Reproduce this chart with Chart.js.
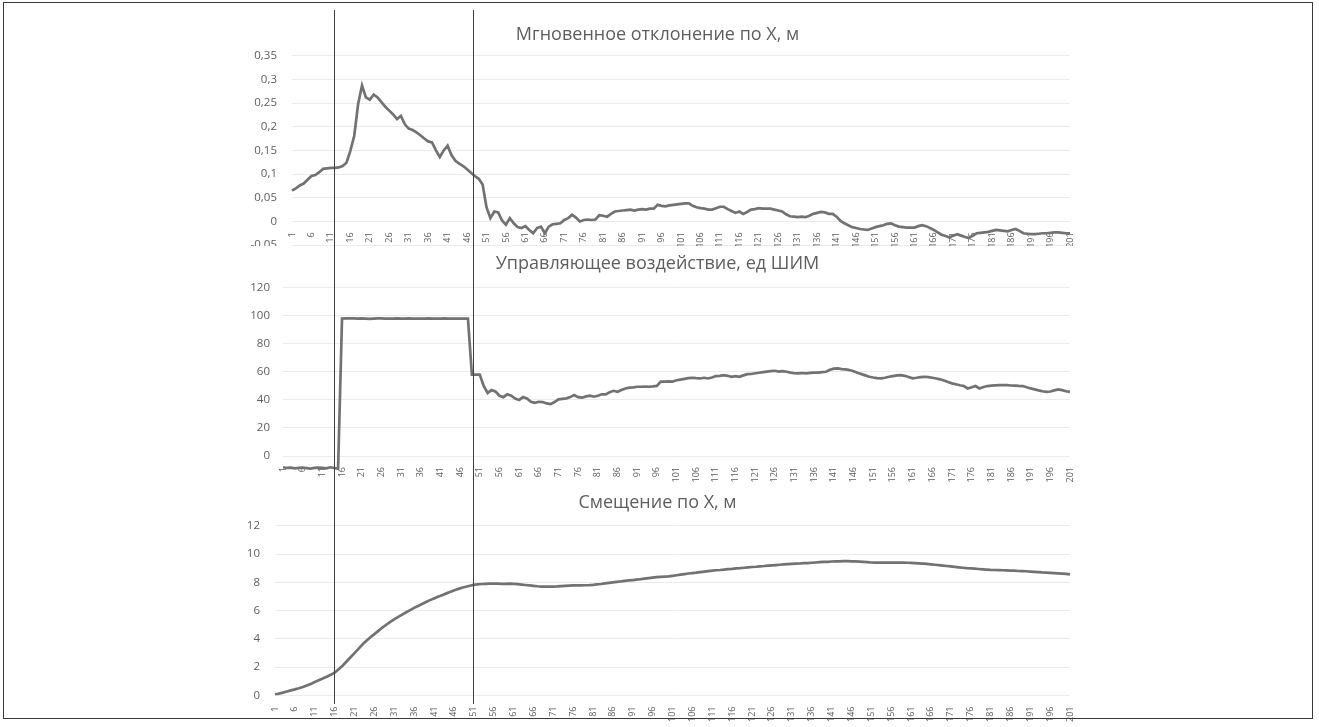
<!DOCTYPE html>
<html>
<head>
<meta charset="utf-8">
<script src="https://cdn.jsdelivr.net/npm/chart.js@4.4.0/dist/chart.umd.min.js"></script>
<style>
  body { margin: 0; background: #fff; width: 1319px; height: 727px; position: relative; overflow: hidden; }
  .box { position: absolute; left: 0; width: 1319px; overflow: hidden; }
  .box canvas { position: absolute; left: 0; top: 0; }
  #frame { position: absolute; left: 3px; top: 2px; width: 1308px; height: 715px; border: 1.5px solid #3a3a3a; pointer-events: none; }
  .vline { position: absolute; width: 1px; background: #3f3f3f; top: 10px; height: 694px; z-index: 5; }
</style>
</head>
<body>
<div class="box" style="top:0;height:246px"><canvas id="c1" width="1319" height="267"></canvas></div>
<div class="box" style="top:246px;height:237px"><canvas id="c2" width="1319" height="260" style="top:-2px"></canvas></div>
<div class="box" style="top:483px;height:244px"><canvas id="c3" width="1319" height="240"></canvas></div>
<div id="frame"></div>
<script>
const categories = Array.from({ length: 201 }, (_, i) => String(i + 1));
const markerCats = ["16", "51"];

const titles = [
  "Мгновенное отклонение по X, м",
  "Управляющее воздействие, ед ШИМ",
  "Смещение по X, м"
];

const deviationX = [
  0.065, 0.070, 0.076, 0.080, 0.088, 0.096, 0.098, 0.104, 0.111, 0.112,
  0.113, 0.113, 0.114, 0.117, 0.124, 0.149, 0.181, 0.248, 0.287, 0.262,
  0.257, 0.268, 0.262, 0.252, 0.242, 0.234, 0.226, 0.216, 0.223, 0.205,
  0.196, 0.193, 0.188, 0.182, 0.175, 0.169, 0.167, 0.150, 0.136, 0.150,
  0.160, 0.140, 0.128, 0.122, 0.117, 0.110, 0.103, 0.096, 0.090, 0.078,
  0.030, 0.007, 0.021, 0.019, 0.002, -0.007, 0.007, -0.004, -0.012, -0.014,
  -0.010, -0.018, -0.025, -0.014, -0.011, -0.025, -0.011, -0.006, -0.005, -0.004,
  0.003, 0.007, 0.014, 0.008, 0.000, 0.003, 0.004, 0.003, 0.004, 0.013,
  0.012, 0.010, 0.016, 0.021, 0.022, 0.023, 0.024, 0.025, 0.023, 0.025,
  0.026, 0.025, 0.027, 0.027, 0.035, 0.033, 0.032, 0.034, 0.035, 0.036,
  0.037, 0.038, 0.038, 0.033, 0.030, 0.028, 0.027, 0.025, 0.025, 0.028,
  0.031, 0.031, 0.026, 0.022, 0.018, 0.021, 0.016, 0.020, 0.025, 0.026,
  0.028, 0.027, 0.027, 0.027, 0.025, 0.023, 0.021, 0.015, 0.011, 0.010,
  0.009, 0.010, 0.009, 0.012, 0.016, 0.018, 0.020, 0.019, 0.016, 0.016,
  0.010, 0.001, -0.004, -0.008, -0.012, -0.014, -0.016, -0.017, -0.018, -0.015,
  -0.012, -0.010, -0.008, -0.005, -0.004, -0.008, -0.011, -0.012, -0.013, -0.013,
  -0.013, -0.010, -0.008, -0.010, -0.014, -0.018, -0.023, -0.028, -0.031, -0.034,
  -0.030, -0.027, -0.030, -0.033, -0.035, -0.030, -0.025, -0.024, -0.023, -0.022,
  -0.020, -0.018, -0.019, -0.020, -0.021, -0.018, -0.016, -0.020, -0.025, -0.026,
  -0.027, -0.027, -0.026, -0.025, -0.025, -0.024, -0.023, -0.023, -0.024, -0.025,
  -0.025
];

const controlPwm = [
  -8.0, -8.5, -8.3, -8.8, -8.5, -8.2, -8.6, -9.0, -8.4, -8.2,
  -8.5, -8.8, -8.0, -8.5, -9.0, 98.0, 98.2, 98.2, 98.1, 98.0,
  98.2, 98.0, 97.8, 98.0, 98.1, 98.2, 98.0, 97.9, 98.0, 98.1,
  98.0, 98.0, 98.1, 98.0, 97.9, 98.0, 98.0, 98.1, 98.0, 98.0,
  98.0, 98.1, 98.0, 98.0, 97.9, 98.0, 98.0, 98.0, 58.0, 58.0,
  58.0, 50.0, 45.0, 47.0, 46.0, 43.0, 42.0, 44.0, 43.0, 41.0,
  40.0, 42.0, 41.0, 38.7, 38.0, 38.7, 38.5, 37.5, 37.0, 38.5,
  40.4, 40.8, 41.1, 42.0, 43.5, 42.0, 41.6, 42.5, 43.0, 42.3,
  43.0, 44.0, 44.0, 45.5, 46.5, 45.8, 47.0, 48.2, 48.8, 49.0,
  49.4, 49.4, 49.5, 49.4, 49.6, 50.0, 53.0, 53.0, 53.2, 53.0,
  54.0, 54.5, 55.0, 55.5, 55.8, 55.5, 55.3, 55.8, 55.3, 56.0,
  57.0, 57.2, 57.7, 57.2, 56.5, 57.0, 56.5, 57.5, 58.4, 58.5,
  59.0, 59.4, 59.8, 60.2, 60.5, 60.8, 60.2, 60.5, 60.1, 59.5,
  59.0, 58.9, 59.2, 59.0, 59.3, 59.4, 59.5, 59.8, 60.1, 61.5,
  62.3, 62.5, 62.0, 61.8, 61.3, 60.5, 59.3, 58.4, 57.5, 56.5,
  56.0, 55.6, 55.4, 55.8, 56.5, 57.0, 57.5, 57.7, 57.2, 56.3,
  55.4, 55.8, 56.3, 56.5, 56.2, 55.8, 55.3, 54.7, 53.8, 52.8,
  51.8, 51.2, 50.5, 49.9, 48.2, 49.0, 49.9, 48.2, 49.2, 49.9,
  50.2, 50.4, 50.6, 50.5, 50.5, 50.3, 50.2, 50.0, 49.9, 49.0,
  48.2, 47.5, 46.8, 46.2, 45.8, 46.0, 46.8, 47.5, 47.0, 46.2,
  45.8
];

const offsetX = [
  0.07, 0.13, 0.20, 0.28, 0.36, 0.43, 0.51, 0.60, 0.70, 0.82,
  0.95, 1.08, 1.20, 1.33, 1.46, 1.61, 1.85, 2.10, 2.40, 2.70,
  3.00, 3.30, 3.60, 3.87, 4.12, 4.34, 4.57, 4.80, 5.00, 5.20,
  5.38, 5.55, 5.72, 5.88, 6.03, 6.19, 6.33, 6.47, 6.61, 6.74,
  6.86, 6.98, 7.09, 7.20, 7.31, 7.42, 7.52, 7.61, 7.69, 7.76,
  7.82, 7.86, 7.88, 7.89, 7.90, 7.90, 7.90, 7.89, 7.89, 7.90,
  7.89, 7.87, 7.84, 7.81, 7.78, 7.75, 7.72, 7.70, 7.70, 7.69,
  7.70, 7.71, 7.73, 7.75, 7.77, 7.78, 7.78, 7.78, 7.79, 7.80,
  7.82, 7.85, 7.88, 7.92, 7.96, 8.00, 8.03, 8.06, 8.10, 8.13,
  8.16, 8.19, 8.22, 8.26, 8.30, 8.33, 8.36, 8.38, 8.40, 8.42,
  8.46, 8.50, 8.54, 8.58, 8.62, 8.65, 8.68, 8.72, 8.76, 8.79,
  8.82, 8.85, 8.87, 8.90, 8.93, 8.95, 8.98, 9.00, 9.03, 9.06,
  9.08, 9.10, 9.13, 9.15, 9.18, 9.20, 9.22, 9.24, 9.26, 9.28,
  9.30, 9.32, 9.33, 9.35, 9.36, 9.38, 9.40, 9.42, 9.44, 9.45,
  9.47, 9.48, 9.48, 9.49, 9.49, 9.48, 9.48, 9.46, 9.44, 9.42,
  9.40, 9.39, 9.39, 9.39, 9.39, 9.39, 9.40, 9.39, 9.39, 9.38,
  9.37, 9.36, 9.34, 9.32, 9.30, 9.27, 9.24, 9.21, 9.18, 9.15,
  9.12, 9.09, 9.06, 9.03, 9.00, 8.98, 8.96, 8.94, 8.92, 8.90,
  8.88, 8.87, 8.86, 8.85, 8.84, 8.83, 8.82, 8.80, 8.79, 8.78,
  8.76, 8.74, 8.72, 8.70, 8.69, 8.67, 8.65, 8.63, 8.61, 8.59,
  8.56
];

const textColor = "#5e5e5e";
const font = "'Open Sans', sans-serif";

function makeChart(id, values, title, cfg) {
  const ctx = document.getElementById(id).getContext("2d");
  return new Chart(ctx, {
    type: "line",
    data: {
      labels: categories,
      datasets: [{
        data: values,
        borderColor: "#727272",
        borderWidth: 2.7,
        pointRadius: 0,
        tension: 0
      }]
    },
    options: {
      responsive: false,
      animation: false,
      layout: { padding: { left: 245, right: 249, top: 0, bottom: cfg.padBottom } },
      plugins: {
        legend: { display: false },
        tooltip: { enabled: false },
        title: {
          display: true,
          text: title,
          color: textColor,
          font: { family: font, size: 18, weight: "normal" },
          padding: { top: cfg.titleTop, bottom: cfg.titleBottom }
        }
      },
      scales: {
        x: {
          axis: "x",
          position: { y: cfg.xAt },
          grid: { display: false },
          border: { display: false },
          ticks: {
            autoSkip: false,
            maxRotation: 90,
            minRotation: 90,
            padding: 3,
            color: textColor,
            font: { family: font, size: 9 },
            callback: (v, i) => (i % 5 === 0 ? categories[i] : "")
          }
        },
        y: {
          min: cfg.min,
          max: cfg.max,
          afterFit: (s) => { s.width = cfg.yWidth; },
          grid: { color: "#ebebeb", drawTicks: false },
          border: { display: false },
          ticks: {
            stepSize: cfg.step,
            padding: cfg.tickPad,
            color: textColor,
            font: { family: font, size: 11.5 },
            callback: (v) => (cfg.hideMin && v === cfg.min ? "" : String(Number(v.toFixed(2))).replace(".", ","))
          }
        }
      }
    }
  });
}

const chart1 = makeChart("c1", deviationX, titles[0], {
  min: -0.05, max: 0.35, step: 0.05, xAt: 0, yWidth: 47, tickPad: 15,
  titleTop: 24.2, titleBottom: 9.9, padBottom: 14, hideMin: false
});
const chart2 = makeChart("c2", controlPwm, titles[1], {
  min: -20, max: 120, step: 20, xAt: 0, yWidth: 38, tickPad: 13,
  titleTop: 9.2, titleBottom: 12.9, padBottom: 16, hideMin: true
});
const chart3 = makeChart("c3", offsetX, titles[2], {
  min: 0, max: 12, step: 2, xAt: 0, yWidth: 30, tickPad: 15,
  titleTop: 9.2, titleBottom: 11.9, padBottom: 27.5, hideMin: false
});

// vertical marker lines through all three charts, placed from the bottom chart's scale
markerCats.forEach((cat) => {
  const x = chart3.scales.x.getPixelForValue(categories.indexOf(cat));
  const d = document.createElement("div");
  d.className = "vline";
  d.style.left = Math.round(x - 0.5) + "px";
  document.body.appendChild(d);
});
</script>
</body>
</html>
